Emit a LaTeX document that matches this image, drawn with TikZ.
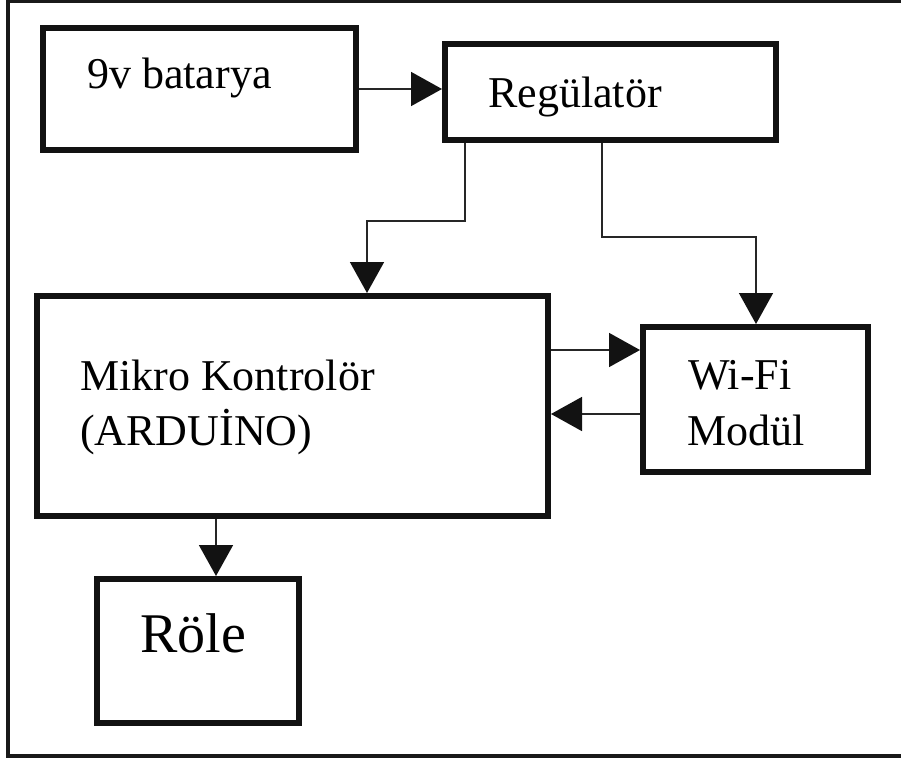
\documentclass[tikz,border=0pt]{standalone}
\usepackage{fontspec}
\setmainfont{Liberation Serif}
\usetikzlibrary{arrows.meta}

\begin{document}
\begin{tikzpicture}[x=1pt, y=-1pt,
  block/.style={draw=black!93, line width=6pt, rectangle, inner sep=0pt},
  label/.style={anchor=base west, inner sep=0pt, font=\fontsize{44}{50}\selectfont},
  biglabel/.style={anchor=base west, inner sep=0pt, font=\fontsize{56}{64}\selectfont},
  wire/.style={draw=black!85, line width=1.6pt,
    -{Triangle[length=31pt, width=34pt, fill=black!93, color=black!93]}}
]
\useasboundingbox (0,0) rectangle (901,760);

% outer frame (open on the right)
\draw[line width=3.5pt, black!90] (905,1.5) -- (8,1.5) -- (8,756) -- (905,756);

% blocks
\node[block, minimum width=313pt, minimum height=122pt] (bat)  at (199.5,89)  {};
\node[block, minimum width=331pt, minimum height=96pt]  (reg)  at (610.5,92)  {};
\node[block, minimum width=511pt, minimum height=220pt] (mik)  at (292.5,406) {};
\node[block, minimum width=225pt, minimum height=145pt] (wifi) at (755.5,399.5) {};
\node[block, minimum width=202pt, minimum height=144pt] (role) at (198,651)   {};

% texts
\node[label] (tbat)  at (87,88)   {9v batarya};
\node[label] (treg)  at (488,107) {Regülatör};
\node[label] (tmik1) at (80,390)  {Mikro Kontrolör};
\node[label] (tmik2) at (80,445)  {(ARDUİNO)};
\node[label] (twif1) at (688,389) {Wi-Fi};
\node[label] (twif2) at (687,445) {Modül};
\node[biglabel] (trole) at (140,652) {Röle};

% bend points of the supply lines
\coordinate (k1) at (465,221);
\coordinate (k2) at (367,221);
\coordinate (k3) at (602,237);
\coordinate (k4) at (756,237);
\coordinate (h1) at (0,350);
\coordinate (h2) at (0,414);
\coordinate (v1) at (216,0);

% connectors
\draw[wire] (bat.east) -- (bat.east -| reg.west);
\draw[wire] (reg.south -| k1) -- (k1) -- (k2) -- (k2 |- mik.north);
\draw[wire] (reg.south -| k3) -- (k3) -- (k4) -- (k4 |- wifi.north);
\draw[wire] (mik.east |- h1) -- (wifi.west |- h1);
\draw[wire] (wifi.west |- h2) -- (mik.east |- h2);
\draw[wire] (mik.south -| v1) -- (role.north -| v1);
\end{tikzpicture}
\end{document}
